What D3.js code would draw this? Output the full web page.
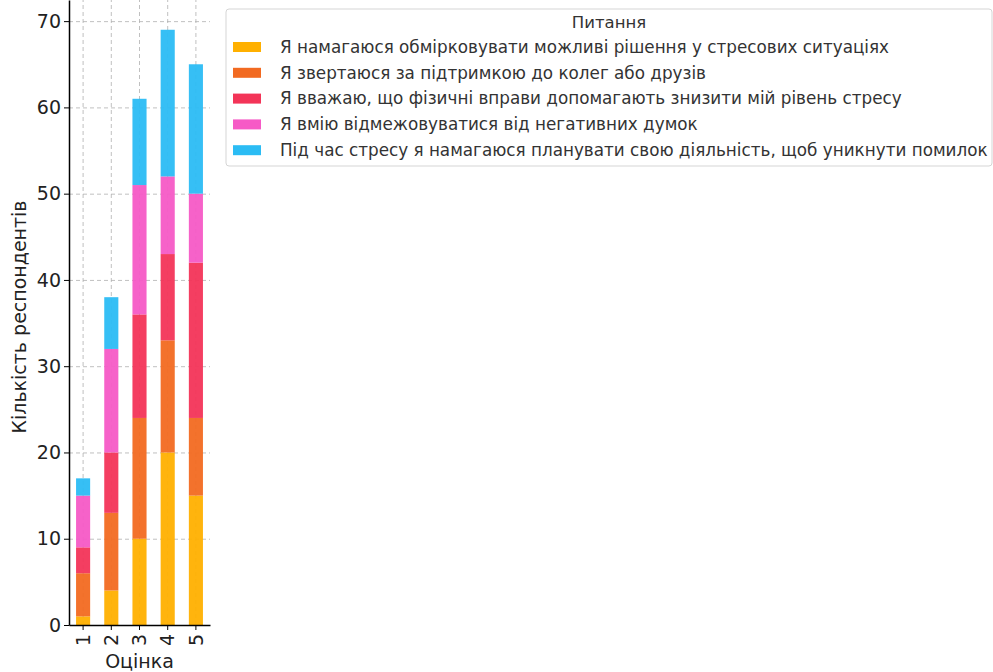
<!DOCTYPE html>
<meta charset="utf-8">
<style>
body { margin: 0; background: #fff; }
text { font-family: "DejaVu Sans", sans-serif; }
.grid line { stroke: #b0b0b0; stroke-dasharray: 4,3; stroke-width: 0.8px; }
.grid path { display: none; }
.axis text { font-size: 19px; fill: #222; }
.axis path, .axis line { stroke: #000; }
</style>
<body>
<script src="https://d3js.org/d3.v7.min.js"></script>
<script>

// categories (Оцінка)
var grades = ["1", "2", "3", "4", "5"];

// series names (legend)
var questions = [
  "Я намагаюся обмірковувати можливі рішення у стресових ситуаціях",
  "Я звертаюся за підтримкою до колег або друзів",
  "Я вважаю, що фізичні вправи допомагають знизити мій рівень стресу",
  "Я вмію відмежовуватися від негативних думок",
  "Під час стресу я намагаюся планувати свою діяльність, щоб уникнути помилок"
];

// series values, one per grade
var q1 = [1, 4, 10, 20, 15];
var q2 = [5, 9, 14, 13, 9];
var q3 = [3, 7, 12, 10, 18];
var q4 = [6, 12, 15, 9, 8];
var q5 = [2, 6, 10, 17, 15];

var yTicks = [0, 10, 20, 30, 40, 50, 60, 70];

var colors = ["#ffb000", "#f26a21", "#f33458", "#f65ac6", "#2bbcf4"];

var margin = {top: 0, right: 783, bottom: 47, left: 69},
    width = 993 - margin.left - margin.right,
    height = 672 - margin.top - margin.bottom;

var rows = grades.map(function(g, i) {
  return {grade: g, q1: q1[i], q2: q2[i], q3: q3[i], q4: q4[i], q5: q5[i]};
});
var keys = ["q1", "q2", "q3", "q4", "q5"];
var stacked = d3.stack().keys(keys)(rows);

var x = d3.scaleBand().domain(grades).range([0, width])
    .paddingInner(0.5).paddingOuter(0.25);
var ymax = d3.max(rows, function(d) { return d.q1 + d.q2 + d.q3 + d.q4 + d.q5; });
var y = d3.scaleLinear().domain([0, ymax * 1.05]).range([height, 0]);

var svg = d3.select("body").append("svg")
    .attr("width", 993)
    .attr("height", 672)
  .append("g")
    .attr("transform", "translate(" + margin.left + "," + margin.top + ")");

// grid
svg.append("g")
    .attr("class", "grid")
    .call(d3.axisLeft(y).tickValues(yTicks).tickSize(-width).tickFormat(""));
svg.append("g")
    .attr("class", "grid")
    .attr("transform", "translate(0," + height + ")")
    .call(d3.axisBottom(x).tickSize(-height).tickFormat(""));

// bars
svg.selectAll(".layer")
    .data(stacked)
  .enter().append("g")
    .attr("class", "layer")
    .attr("fill", function(d, i) { return colors[i]; })
    .attr("fill-opacity", 0.95)
  .selectAll("rect")
    .data(function(d) { return d; })
  .enter().append("rect")
    .attr("x", function(d) { return x(d.data.grade); })
    .attr("y", function(d) { return y(d[1]); })
    .attr("width", x.bandwidth())
    .attr("height", function(d) { return y(d[0]) - y(d[1]); });

// axes
var xAxis = svg.append("g")
    .attr("class", "axis")
    .attr("transform", "translate(0," + height + ")")
    .call(d3.axisBottom(x).tickSize(5).tickSizeOuter(0));
xAxis.selectAll("text")
    .attr("transform", "rotate(-90)")
    .attr("x", -9)
    .attr("y", 0)
    .attr("dy", "0.35em")
    .style("text-anchor", "end");
xAxis.select(".domain").attr("stroke-width", 1.5);

var yAxis = svg.append("g")
    .attr("class", "axis")
    .call(d3.axisLeft(y).tickValues(yTicks).tickSize(5).tickSizeOuter(0));
yAxis.selectAll("text").attr("x", -8);
yAxis.select(".domain").attr("stroke-width", 1.5);

// axis labels
svg.append("text")
    .attr("x", width / 2)
    .attr("y", height + 43)
    .style("text-anchor", "middle")
    .style("font-size", "19px")
    .style("fill", "#222")
    .text("Оцінка");

svg.append("text")
    .attr("transform", "rotate(-90)")
    .attr("x", -317)
    .attr("y", -43)
    .style("text-anchor", "middle")
    .style("font-size", "19px")
    .style("fill", "#222")
    .text("Кількість респондентів");

// legend
var legend = d3.select("svg").append("g")
    .attr("transform", "translate(226,9)");

legend.append("rect")
    .attr("width", 766)
    .attr("height", 157)
    .attr("rx", 3)
    .attr("fill", "#fff")
    .attr("stroke", "#d5d5d5");

legend.append("text")
    .attr("x", 383)
    .attr("y", 19)
    .style("text-anchor", "middle")
    .style("font-size", "16.5px")
    .style("fill", "#333")
    .text("Питання");

var item = legend.selectAll(".item")
    .data(questions)
  .enter().append("g")
    .attr("class", "item")
    .attr("transform", function(d, i) { return "translate(7," + (33 + i * 25.8) + ")"; });

item.append("rect")
    .attr("width", 28)
    .attr("height", 10)
    .attr("fill", function(d, i) { return colors[i]; });

item.append("text")
    .attr("x", 47)
    .attr("y", 5)
    .attr("dy", "0.35em")
    .style("font-size", "16.8px")
    .style("fill", "#333")
    .text(function(d) { return d; });

</script>
</body>
